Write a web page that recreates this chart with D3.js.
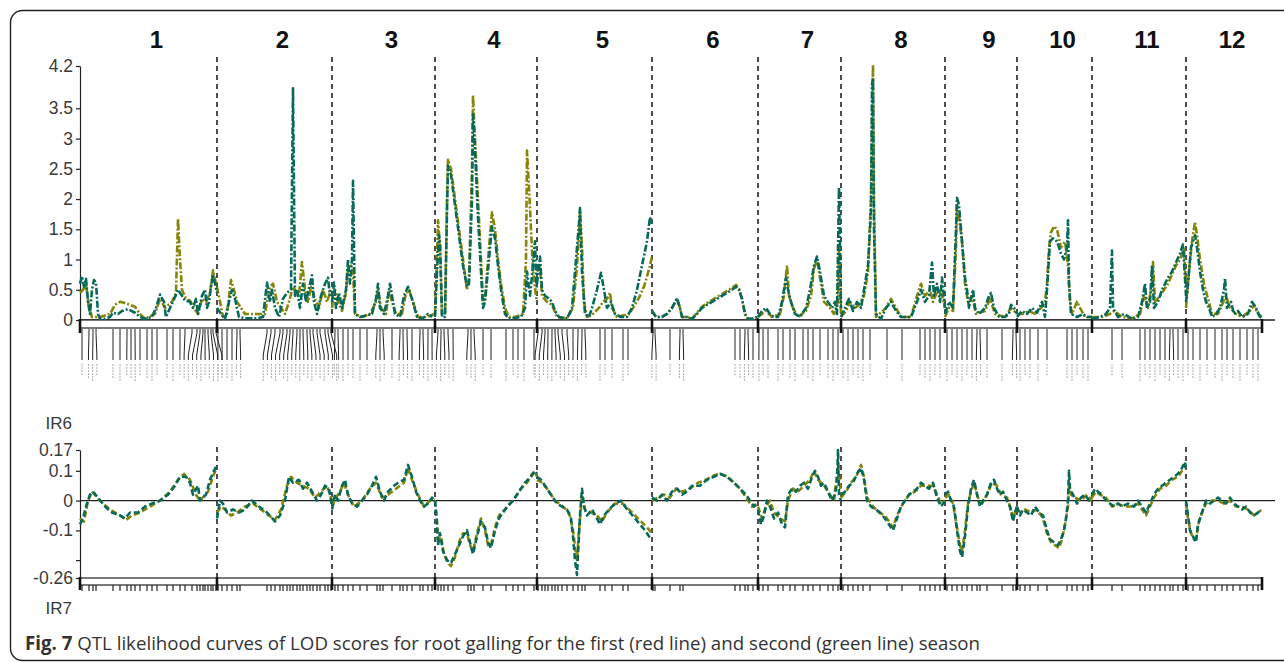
<!DOCTYPE html>
<html>
<head>
<meta charset="utf-8">
<script src="https://cdn.jsdelivr.net/npm/d3@7"></script>
<style>
  body { margin: 0; background: #fff; }
  svg { display: block; }
</style>
</head>
<body>
<svg id="chart" width="1284" height="662"></svg>
<script>
// chromosome names and lengths (cM)
const chromosomes = ['1', '2', '3', '4', '5', '6', '7', '8', '9', '10', '11', '12'];
const chrLengths = [137, 115, 103, 102, 115, 106, 83, 104, 72, 75, 94, 76];

const lodTicks = [0, 0.5, 1, 1.5, 2, 2.5, 3, 3.5, 4.2];
const effectTicks = [0.17, 0.1, 0, -0.1, -0.2, -0.26];
const effectTickLabels = ['0.17', '0.1', '0', '-0.1', '', '-0.26'];

// marker positions within each chromosome (cM)
const markers = [
  [2, 9, 13, 16, 33, 40, 47, 51, 55, 60, 67, 72, 77, 87, 93, 100, 105, 112, 117, 120, 123, 125, 128, 131, 133, 136],
  [1, 5, 10, 15, 20, 23, 50, 54, 58, 63, 66, 70, 73, 76, 80, 83, 86, 90, 93, 96, 100, 103, 108, 111, 114],
  [3, 6, 11, 16, 21, 28, 35, 45, 48, 51, 60, 68, 71, 75, 80, 88, 91, 96, 100],
  [3, 6, 9, 13, 18, 33, 36, 39, 48, 56, 71, 78, 83, 89, 99],
  [1, 5, 8, 11, 15, 18, 21, 25, 30, 36, 41, 45, 48, 63, 68, 75, 86, 91],
  [1, 3, 18, 28, 31, 83, 88, 93, 96, 101],
  [1, 5, 10, 20, 25, 32, 37, 45, 50, 55, 62, 70, 75, 80],
  [2, 7, 12, 17, 22, 29, 46, 61, 79, 84, 89, 94, 99],
  [2, 7, 12, 17, 22, 27, 32, 35, 42, 57, 68, 71],
  [3, 8, 13, 21, 30, 50, 55, 60, 66, 71],
  [20, 30, 48, 53, 58, 63, 68, 73, 78, 81, 86, 91],
  [2, 7, 14, 21, 29, 36, 41, 47, 54, 61, 67, 72]
];

// LOD, first season (drawn olive) — [position, LOD] per chromosome
const lodSeason1 = [
  [[0,0.45],[3,0.5],[6,0.6],[9,0.2],[12,0.05],[20,0.05],[30,0.1],[35,0.25],[40,0.3],[45,0.28],[50,0.25],[55,0.22],[60,0.1],[65,0.02],[75,0.1],[80,0.35],[85,0.2],[92,0.3],[96,0.45],[98,1.68],[100,1.0],[102,0.5],[106,0.35],[110,0.32],[114,0.2],[118,0.1],[122,0.35],[126,0.3],[130,0.45],[133,0.82],[136,0.6]],
  [[0,0.55],[3,0.3],[6,0.05],[10,0.1],[14,0.66],[17,0.5],[20,0.3],[24,0.2],[28,0.1],[45,0.1],[48,0.1],[50,0.3],[53,0.55],[56,0.6],[60,0.3],[64,0.2],[68,0.1],[72,0.3],[76,0.55],[78,0.5],[82,0.4],[85,0.96],[88,0.5],[91,0.3],[94,0.55],[98,0.35],[102,0.2],[106,0.5],[110,0.3],[114,0.5]],
  [[0,0.2],[3,0.5],[6,0.3],[10,0.15],[14,0.45],[16,0.85],[19,0.9],[21,0.8],[23,0.1],[30,0.05],[38,0.1],[44,0.3],[46,0.5],[49,0.2],[54,0.1],[57,0.5],[60,0.3],[64,0.1],[70,0.1],[74,0.45],[77,0.5],[81,0.3],[86,0.05],[95,0.05],[102,0.1]],
  [[0,0.1],[2,1.0],[3,1.65],[5,1.2],[7,0.1],[10,0.1],[12,2.0],[13,2.65],[16,2.5],[20,2.0],[24,1.5],[28,1.0],[32,0.5],[34,0.7],[37,2.5],[38,3.72],[40,3.0],[43,2.0],[46,1.0],[48,0.3],[50,0.35],[54,1.2],[57,1.78],[60,1.5],[63,1.0],[66,0.6],[70,0.2],[74,0.05],[80,0.05],[88,0.1],[91,1.0],[92,2.8],[94,2.2],[96,1.5],[98,0.8],[101,0.4],[102,0.3]],
  [[0,0.8],[3,0.9],[5,0.4],[10,0.3],[15,0.25],[20,0.05],[30,0.03],[36,0.2],[40,0.9],[42,1.4],[43,1.8],[45,1.2],[47,0.3],[50,0.05],[56,0.1],[62,0.2],[66,0.3],[70,0.35],[73,0.45],[75,0.2],[80,0.05],[92,0.1],[98,0.25],[103,0.4],[108,0.6],[113,0.9],[115,1.05]],
  [[0,0.15],[4,0.05],[10,0.05],[15,0.1],[20,0.2],[25,0.34],[28,0.2],[30,0.05],[35,0.05],[40,0.02],[45,0.12],[50,0.22],[55,0.28],[60,0.33],[65,0.38],[70,0.43],[75,0.48],[80,0.53],[84,0.58],[87,0.52],[90,0.35],[93,0.1],[96,0.02],[100,0.02],[106,0.05]],
  [[0,0.05],[4,0.1],[8,0.15],[14,0.05],[22,0.1],[26,0.4],[29,0.9],[31,0.4],[35,0.2],[40,0.05],[48,0.15],[53,0.4],[56,0.85],[59,1.0],[62,0.7],[66,0.3],[72,0.2],[76,0.1],[80,0.3],[81,1.2],[83,0.1]],
  [[0,0.05],[5,0.15],[9,0.3],[14,0.2],[18,0.25],[23,0.4],[27,0.8],[30,2.0],[32,4.22],[33,2.0],[35,0.05],[45,0.2],[50,0.35],[55,0.2],[60,0.05],[70,0.05],[76,0.4],[80,0.6],[84,0.4],[89,0.5],[92,0.3],[97,0.5],[101,0.4],[104,0.2]],
  [[0,0.05],[4,0.2],[8,0.15],[11,1.2],[12,1.9],[14,1.7],[17,1.3],[20,0.6],[23,0.3],[27,0.4],[31,0.1],[40,0.15],[45,0.35],[50,0.1],[60,0.05],[66,0.2],[72,0.1]],
  [[0,0.1],[6,0.1],[12,0.15],[18,0.1],[24,0.2],[28,0.3],[30,0.6],[32,1.2],[34,1.45],[37,1.55],[40,1.5],[44,1.2],[48,1.3],[51,0.9],[53,0.3],[55,0.1],[60,0.3],[63,0.2],[68,0.05],[75,0.05]],
  [[0,0.05],[10,0.05],[18,0.1],[22,0.15],[30,0.05],[40,0.03],[48,0.1],[52,0.4],[56,0.2],[60,0.6],[61,0.96],[63,0.3],[68,0.4],[72,0.5],[76,0.6],[80,0.75],[84,0.9],[88,1.0],[92,1.2],[94,0.6]],
  [[0,0.2],[3,0.8],[6,1.3],[9,1.62],[11,1.4],[14,1.0],[18,0.6],[22,0.35],[26,0.1],[32,0.1],[36,0.25],[40,0.4],[44,0.2],[50,0.1],[56,0.05],[64,0.15],[68,0.25],[72,0.1],[76,0.05]]
];

// LOD, second season (drawn green)
const lodSeason2 = [
  [[0,0.6],[2,0.72],[4,0.55],[6,0.68],[8,0.3],[10,0.1],[12,0.5],[14,0.66],[16,0.62],[18,0.1],[20,0.02],[25,0.02],[30,0.05],[33,0.12],[38,0.1],[42,0.15],[48,0.18],[55,0.12],[60,0.05],[65,0.02],[72,0.05],[76,0.2],[80,0.42],[84,0.3],[86,0.05],[90,0.2],[95,0.38],[98,0.5],[100,0.45],[105,0.32],[110,0.3],[113,0.2],[116,0.35],[118,0.1],[122,0.4],[125,0.5],[127,0.2],[129,0.3],[131,0.55],[133,0.75],[135,0.6],[137,0.45]],
  [[0,0.2],[4,0.1],[8,0.02],[12,0.3],[15,0.5],[18,0.35],[22,0.05],[28,0.03],[40,0.03],[46,0.05],[50,0.62],[53,0.3],[55,0.5],[58,0.2],[62,0.05],[66,0.35],[70,0.45],[74,0.5],[76,3.83],[78,0.4],[80,0.5],[83,0.2],[86,0.6],[89,0.3],[93,0.6],[95,0.74],[97,0.3],[100,0.1],[104,0.4],[108,0.6],[111,0.7],[113,0.4]],
  [[0,0.3],[2,0.62],[4,0.2],[7,0.45],[10,0.2],[14,0.5],[16,1.0],[18,0.6],[20,1.0],[21,2.3],[22,1.2],[23,0.1],[28,0.05],[35,0.08],[40,0.1],[44,0.35],[46,0.6],[48,0.2],[52,0.1],[56,0.4],[58,0.6],[61,0.3],[63,0.1],[68,0.05],[72,0.4],[76,0.55],[80,0.35],[85,0.05],[90,0.02],[96,0.1],[100,0.05]],
  [[0,0.05],[2,0.8],[4,1.4],[5,1.3],[7,0.05],[10,0.05],[12,1.8],[13,2.55],[16,2.4],[20,1.9],[24,1.4],[28,0.9],[32,0.55],[34,0.6],[37,2.0],[38,3.4],[40,2.8],[43,1.7],[46,0.8],[48,0.2],[50,0.3],[54,1.0],[57,1.55],[60,1.35],[63,0.9],[66,0.5],[70,0.1],[74,0.02],[86,0.05],[90,0.2],[92,0.8],[95,0.4],[98,0.9],[100,1.3],[101,0.7],[102,0.5]],
  [[0,0.6],[3,1.05],[5,0.5],[8,0.4],[12,0.35],[15,0.3],[18,0.15],[22,0.05],[30,0.02],[35,0.2],[39,1.0],[42,1.6],[43,1.85],[45,0.8],[48,0.1],[52,0.05],[55,0.2],[60,0.5],[64,0.78],[67,0.5],[70,0.2],[74,0.3],[78,0.1],[84,0.05],[90,0.05],[95,0.2],[100,0.5],[105,0.9],[110,1.3],[113,1.7],[115,1.6]],
  [[0,0.15],[4,0.05],[10,0.05],[15,0.1],[20,0.2],[25,0.36],[28,0.2],[30,0.05],[35,0.05],[40,0.02],[45,0.1],[50,0.2],[55,0.25],[60,0.3],[65,0.35],[70,0.4],[75,0.45],[80,0.5],[84,0.55],[87,0.5],[90,0.35],[93,0.1],[96,0.02],[100,0.02],[106,0.05]],
  [[0,0.05],[4,0.15],[8,0.2],[12,0.1],[16,0.05],[20,0.05],[24,0.3],[28,0.7],[30,0.5],[33,0.3],[37,0.1],[42,0.05],[48,0.2],[52,0.5],[56,0.9],[59,1.05],[62,0.8],[66,0.4],[70,0.3],[74,0.2],[77,0.3],[79,0.1],[81,2.2],[83,0.2]],
  [[0,0.05],[4,0.2],[8,0.35],[12,0.15],[16,0.3],[20,0.2],[24,0.6],[27,0.9],[30,1.8],[31,3.9],[32,4.0],[33,1.5],[35,0.1],[40,0.02],[45,0.2],[50,0.3],[55,0.15],[60,0.05],[70,0.05],[76,0.3],[80,0.5],[84,0.3],[88,0.4],[91,0.95],[93,0.4],[96,0.6],[99,0.3],[101,0.7],[104,0.2]],
  [[0,0.1],[4,0.3],[8,0.2],[11,1.5],[12,2.02],[14,1.9],[16,1.5],[18,1.1],[20,0.7],[22,0.5],[24,0.2],[28,0.5],[30,0.2],[34,0.1],[40,0.2],[44,0.4],[46,0.45],[49,0.2],[54,0.05],[60,0.05],[64,0.1],[66,0.25],[69,0.2],[72,0.1]],
  [[0,0.05],[5,0.15],[10,0.1],[15,0.2],[20,0.12],[25,0.3],[28,0.05],[30,0.5],[33,1.3],[36,1.35],[40,1.3],[44,1.1],[47,1.0],[50,1.2],[51,1.65],[52,0.6],[54,0.1],[60,0.05],[66,0.1],[70,0.05],[75,0.05]],
  [[0,0.02],[8,0.05],[14,0.1],[18,0.2],[20,1.15],[21,0.2],[26,0.05],[32,0.1],[40,0.02],[46,0.05],[50,0.3],[53,0.6],[55,0.2],[58,0.3],[60,0.9],[62,0.2],[66,0.3],[70,0.5],[73,0.6],[76,0.7],[80,0.8],[84,0.95],[88,1.1],[91,1.25],[94,0.4]],
  [[0,0.3],[2,0.6],[5,1.2],[9,1.4],[11,1.2],[14,0.8],[17,0.5],[20,0.3],[23,0.2],[26,0.05],[30,0.1],[34,0.2],[38,0.5],[39,0.69],[41,0.2],[45,0.3],[48,0.1],[52,0.15],[56,0.05],[62,0.1],[66,0.3],[70,0.2],[74,0.05],[76,0.05]]
];

// additive effect, first season (olive)
const effectSeason1 = [
  [[0,-0.06],[4,-0.07],[8,0.0],[12,0.03],[20,0.0],[30,-0.03],[40,-0.05],[46,-0.065],[52,-0.05],[60,-0.04],[70,-0.02],[80,0.0],[90,0.03],[98,0.07],[104,0.09],[110,0.07],[116,0.02],[120,0.0],[128,0.03],[134,0.09],[137,0.11]],
  [[0,-0.04],[4,-0.02],[8,-0.03],[14,-0.05],[20,-0.04],[28,-0.02],[36,-0.01],[44,-0.03],[52,-0.05],[58,-0.065],[64,-0.03],[70,0.05],[74,0.08],[80,0.06],[86,0.05],[92,0.04],[98,0.01],[104,0.03],[110,0.05],[115,0.0]],
  [[0,-0.02],[4,0.01],[8,0.03],[12,0.06],[16,0.02],[22,-0.02],[30,0.0],[38,0.04],[44,0.06],[50,0.01],[56,0.02],[64,0.04],[72,0.06],[76,0.11],[80,0.07],[86,0.02],[92,-0.02],[98,0.0],[103,0.0]],
  [[0,0.0],[2,-0.07],[3,-0.13],[6,-0.12],[9,-0.18],[13,-0.21],[16,-0.22],[20,-0.19],[24,-0.14],[28,-0.11],[32,-0.11],[35,-0.15],[38,-0.17],[42,-0.11],[46,-0.06],[50,-0.1],[53,-0.15],[56,-0.15],[60,-0.09],[64,-0.05],[70,-0.03],[78,0.0],[86,0.04],[92,0.06],[97,0.09],[100,0.1],[102,0.08]],
  [[0,0.07],[5,0.06],[10,0.04],[18,0.0],[26,-0.02],[32,-0.04],[36,-0.1],[39,-0.18],[40,-0.2],[42,-0.1],[45,0.02],[48,-0.03],[54,-0.04],[60,-0.05],[65,-0.07],[70,-0.04],[78,-0.01],[86,-0.01],[95,-0.04],[104,-0.07],[110,-0.09],[115,-0.11]],
  [[0,0.0],[6,0.01],[12,0.02],[18,0.01],[24,0.04],[30,0.03],[38,0.04],[46,0.06],[54,0.07],[62,0.085],[68,0.09],[76,0.08],[82,0.06],[88,0.04],[94,0.01],[100,-0.02],[106,-0.01]],
  [[0,-0.02],[4,-0.06],[8,-0.02],[12,0.0],[16,-0.04],[22,-0.06],[27,-0.07],[30,0.0],[35,0.04],[40,0.03],[46,0.05],[52,0.07],[56,0.1],[60,0.07],[66,0.05],[72,0.02],[76,0.0],[80,0.12],[83,0.02]],
  [[0,0.01],[5,0.03],[10,0.06],[15,0.08],[20,0.12],[23,0.08],[26,0.01],[32,-0.02],[38,-0.04],[44,-0.05],[48,-0.07],[52,-0.09],[56,-0.05],[62,-0.01],[68,0.02],[74,0.03],[80,0.05],[86,0.05],[92,0.05],[96,0.02],[100,-0.01],[104,0.0]],
  [[0,0.01],[4,0.02],[8,-0.01],[12,-0.09],[15,-0.15],[17,-0.17],[20,-0.1],[23,-0.01],[26,0.03],[29,0.06],[33,0.01],[37,-0.01],[42,0.02],[47,0.06],[52,0.05],[56,0.02],[62,0.01],[66,-0.03],[68,-0.06],[72,-0.02]],
  [[0,-0.03],[4,-0.04],[8,-0.03],[14,-0.04],[20,-0.03],[26,-0.06],[30,-0.11],[34,-0.14],[38,-0.15],[42,-0.16],[45,-0.13],[48,-0.08],[51,-0.02],[52,0.06],[54,0.02],[58,0.01],[64,0.0],[70,0.02],[75,0.0]],
  [[0,0.01],[4,0.03],[8,0.02],[14,0.01],[20,-0.02],[26,-0.01],[32,-0.02],[40,-0.02],[46,-0.01],[50,-0.03],[54,-0.05],[58,-0.02],[62,0.01],[68,0.04],[74,0.05],[80,0.07],[86,0.08],[90,0.1],[94,0.11]],
  [[0,-0.01],[2,-0.06],[5,-0.11],[8,-0.13],[10,-0.13],[13,-0.07],[16,-0.04],[20,-0.01],[26,0.0],[32,0.0],[38,-0.01],[44,0.0],[50,-0.02],[56,-0.02],[62,-0.03],[68,-0.05],[72,-0.04],[76,-0.03]]
];

// additive effect, second season (green)
const effectSeason2 = [
  [[0,-0.08],[3,-0.06],[6,-0.02],[10,0.02],[13,0.03],[18,0.01],[25,-0.02],[32,-0.04],[40,-0.05],[45,-0.06],[50,-0.04],[58,-0.04],[65,-0.02],[72,-0.01],[80,0.0],[88,0.02],[95,0.05],[100,0.08],[106,0.08],[110,0.06],[113,0.02],[118,0.05],[120,0.0],[126,0.02],[130,0.07],[134,0.1],[137,0.12]],
  [[0,-0.06],[3,0.0],[6,-0.01],[10,-0.04],[16,-0.03],[22,-0.04],[28,-0.03],[35,0.0],[42,-0.02],[50,-0.04],[58,-0.07],[63,-0.05],[68,0.0],[72,0.08],[76,0.06],[82,0.07],[86,0.04],[90,0.06],[95,0.03],[100,0.0],[104,0.02],[108,0.05],[112,0.04],[115,-0.02]],
  [[0,-0.03],[3,0.02],[6,0.0],[10,0.05],[13,0.07],[16,0.02],[20,-0.01],[25,-0.02],[30,0.0],[35,0.02],[40,0.05],[44,0.08],[48,0.03],[52,0.0],[56,0.03],[62,0.05],[66,0.06],[72,0.07],[76,0.12],[80,0.08],[84,0.03],[88,0.0],[92,-0.02],[96,-0.01],[100,0.01],[103,0.0]],
  [[0,0.0],[2,-0.08],[3,-0.15],[5,-0.11],[8,-0.17],[12,-0.2],[16,-0.21],[20,-0.18],[24,-0.15],[28,-0.12],[32,-0.1],[35,-0.14],[38,-0.18],[42,-0.12],[46,-0.07],[50,-0.09],[53,-0.14],[56,-0.16],[60,-0.1],[64,-0.06],[68,-0.04],[72,-0.02],[78,0.0],[84,0.03],[90,0.06],[96,0.08],[100,0.1],[102,0.09]],
  [[0,0.08],[4,0.07],[8,0.05],[12,0.03],[16,0.01],[20,-0.01],[25,-0.02],[30,-0.03],[34,-0.06],[36,-0.12],[38,-0.2],[40,-0.25],[41,-0.18],[43,-0.05],[45,0.04],[47,-0.02],[50,-0.05],[55,-0.03],[60,-0.06],[63,-0.08],[67,-0.05],[72,-0.03],[78,-0.01],[84,0.0],[88,-0.02],[93,-0.04],[98,-0.06],[103,-0.08],[108,-0.1],[112,-0.12],[115,-0.13]],
  [[0,0.01],[5,0.0],[10,0.02],[15,0.0],[20,0.03],[25,0.04],[30,0.02],[35,0.03],[40,0.05],[48,0.05],[55,0.07],[62,0.08],[68,0.09],[75,0.08],[82,0.06],[88,0.04],[94,0.02],[98,0.0],[102,-0.02],[106,-0.01]],
  [[0,-0.03],[3,-0.08],[6,-0.05],[9,0.0],[12,-0.02],[16,-0.06],[20,-0.04],[24,-0.08],[27,-0.09],[30,0.02],[34,0.04],[38,0.03],[42,0.05],[46,0.06],[50,0.04],[54,0.08],[57,0.1],[60,0.08],[63,0.05],[66,0.06],[70,0.03],[74,0.0],[77,0.02],[79,0.06],[80,0.17],[81,0.02],[83,0.0]],
  [[0,0.02],[4,0.03],[8,0.05],[12,0.06],[16,0.09],[20,0.11],[23,0.07],[26,0.0],[30,-0.02],[35,-0.03],[39,-0.04],[44,-0.06],[48,-0.08],[52,-0.1],[56,-0.06],[60,-0.02],[64,0.0],[68,0.02],[72,0.03],[76,0.04],[80,0.06],[84,0.05],[88,0.04],[92,0.06],[96,0.01],[100,-0.02],[104,0.0]],
  [[0,0.02],[3,0.03],[6,0.0],[9,-0.02],[12,-0.1],[15,-0.17],[17,-0.19],[20,-0.12],[23,-0.02],[26,0.04],[29,0.07],[32,0.02],[35,-0.02],[38,0.0],[42,0.02],[46,0.06],[49,0.07],[52,0.04],[55,0.02],[58,0.03],[62,0.0],[65,-0.02],[68,-0.07],[70,-0.04],[72,-0.02]],
  [[0,-0.02],[3,-0.05],[6,-0.03],[10,-0.04],[14,-0.05],[18,-0.02],[22,-0.04],[26,-0.05],[30,-0.1],[33,-0.13],[37,-0.14],[41,-0.15],[44,-0.13],[47,-0.1],[49,-0.06],[51,0.0],[52,0.1],[53,0.04],[56,0.02],[60,-0.01],[64,0.01],[68,0.02],[72,0.0],[75,0.01]],
  [[0,0.02],[3,0.04],[6,0.03],[10,0.02],[14,0.0],[18,-0.01],[22,-0.02],[26,-0.01],[30,-0.02],[36,-0.01],[42,-0.02],[46,0.0],[50,-0.02],[54,-0.04],[58,-0.01],[62,0.02],[66,0.04],[70,0.05],[74,0.06],[78,0.07],[82,0.08],[86,0.09],[90,0.11],[93,0.13],[94,0.1]],
  [[0,0.0],[2,-0.05],[4,-0.1],[7,-0.12],[10,-0.14],[12,-0.08],[14,-0.06],[17,-0.03],[20,0.0],[24,-0.01],[28,0.0],[32,0.01],[36,0.0],[40,-0.01],[44,0.01],[48,-0.01],[52,-0.02],[56,-0.03],[60,-0.02],[64,-0.04],[68,-0.05],[72,-0.04],[76,-0.04]]
];

const OLIVE = '#85850a';
const GREEN = '#07695a';
const FONT = '"Liberation Sans", Arial, sans-serif';

const svg = d3.select('#chart');

// cumulative chromosome starts
const starts = [];
chrLengths.reduce((acc, len, i) => { starts[i] = acc; return acc + len; }, 0);
const totalLength = d3.sum(chrLengths);

const x = d3.scaleLinear().domain([0, totalLength]).range([80, 1262]);
const yLod = d3.scaleLinear().domain([0, 4.2]).range([320, 66]);
const yEff = d3.scaleLinear().domain([-0.26, 0.17]).range([578, 450]);

// frame
svg.append('rect')
  .attr('x', 10.5).attr('y', 10.5)
  .attr('width', 1320).attr('height', 650)
  .attr('rx', 12)
  .attr('fill', 'none')
  .attr('stroke', '#222')
  .attr('stroke-width', 1.4);

// chromosome labels
svg.append('g')
  .selectAll('text')
  .data(chromosomes)
  .enter().append('text')
    .attr('x', (d, i) => x(starts[i] + chrLengths[i] / 2) + 8)
    .attr('y', 48)
    .attr('text-anchor', 'middle')
    .attr('font-family', FONT)
    .attr('font-weight', 'bold')
    .attr('font-size', 24)
    .attr('fill', '#111')
    .text(d => d);

// dashed chromosome boundaries
const boundaries = starts.slice(1);
[[57, 320], [447, 578]].forEach(([top, bottom]) => {
  svg.append('g')
    .selectAll('line')
    .data(boundaries)
    .enter().append('line')
      .attr('x1', d => x(d)).attr('x2', d => x(d))
      .attr('y1', top).attr('y2', bottom)
      .attr('stroke', '#222')
      .attr('stroke-width', 1.6)
      .attr('stroke-dasharray', '5,4');
});

// axes
function styleAxis(g) {
  g.select('.domain').attr('stroke', '#222').attr('stroke-width', 1.2);
  g.selectAll('.tick line').attr('stroke', '#222').attr('stroke-width', 1.2);
  g.selectAll('.tick text')
    .attr('font-family', FONT)
    .attr('font-size', 17.5)
    .attr('fill', '#3a3a3a');
}

svg.append('g')
  .attr('transform', `translate(${x(0)},0)`)
  .call(d3.axisLeft(yLod).tickValues(lodTicks).tickSize(4).tickSizeOuter(0).tickPadding(3)
    .tickFormat(d => String(d)))
  .call(styleAxis);

svg.append('g')
  .attr('transform', `translate(${x(0)},0)`)
  .call(d3.axisLeft(yEff).tickValues(effectTicks).tickSize(4).tickSizeOuter(0).tickPadding(3)
    .tickFormat((d, i) => effectTickLabels[i]))
  .call(styleAxis);

// zero lines
svg.append('line')
  .attr('x1', x(0)).attr('x2', 1275)
  .attr('y1', yLod(0)).attr('y2', yLod(0))
  .attr('stroke', '#222').attr('stroke-width', 1.3);
svg.append('line')
  .attr('x1', x(0)).attr('x2', 1275)
  .attr('y1', yEff(0)).attr('y2', yEff(0))
  .attr('stroke', '#222').attr('stroke-width', 1.3);

// chromosome bars under each panel
function chromosomeBar(top, height) {
  const g = svg.append('g');
  g.selectAll('rect')
    .data(chrLengths)
    .enter().append('rect')
      .attr('x', (d, i) => x(starts[i]))
      .attr('y', top)
      .attr('width', d => x(d) - x(0))
      .attr('height', height)
      .attr('fill', '#fff')
      .attr('stroke', '#222')
      .attr('stroke-width', 1.2);
  g.selectAll('line')
    .data(starts.concat([totalLength]))
    .enter().append('line')
      .attr('x1', d => x(d)).attr('x2', d => x(d))
      .attr('y1', top - 1).attr('y2', top + height + 5)
      .attr('stroke', '#111')
      .attr('stroke-width', 2.6);
  return g;
}
chromosomeBar(320, 8);
chromosomeBar(578, 7);

// marker lines with fanned label slots (top) and ticks (bottom)
const markerData = [];
markers.forEach((list, ci) => {
  const pos = list.map(m => x(starts[ci] + m));
  // spread slots so they keep a minimum gap
  const slots = pos.slice();
  const gap = 4.2;
  for (let iter = 0; iter < 60; iter++) {
    for (let k = 1; k < slots.length; k++) {
      const d = slots[k] - slots[k - 1];
      if (d < gap) {
        const push = (gap - d) / 2;
        slots[k - 1] -= push;
        slots[k] += push;
      }
    }
  }
  pos.forEach((p, k) => markerData.push({ px: p, sx: slots[k] }));
});

svg.append('g')
  .selectAll('path')
  .data(markerData)
  .enter().append('path')
    .attr('d', d => `M${d.px},329 L${d.px},333 L${d.sx},355 L${d.sx},360`)
    .attr('fill', 'none')
    .attr('stroke', '#222')
    .attr('stroke-width', 1);

// illegible marker names, shown as faint strokes
svg.append('g')
  .selectAll('line')
  .data(markerData)
  .enter().append('line')
    .attr('x1', d => d.sx).attr('x2', d => d.sx)
    .attr('y1', 364).attr('y2', (d, i) => 376 + (i % 3) * 3)
    .attr('stroke', '#b4b4b4')
    .attr('stroke-width', 1.1)
    .attr('stroke-dasharray', '2,1');

svg.append('g')
  .selectAll('line')
  .data(markerData)
  .enter().append('line')
    .attr('x1', d => d.px).attr('x2', d => d.px)
    .attr('y1', 585).attr('y2', 591)
    .attr('stroke', '#222')
    .attr('stroke-width', 1.2);

// curves
function drawSeries(series, yScale, color, dash) {
  const line = d3.line()
    .x(d => d[0])
    .y(d => yScale(d[1]));
  svg.append('g')
    .selectAll('path')
    .data(series.map((pts, ci) => pts.map(p => [x(starts[ci] + p[0]), p[1]])))
    .enter().append('path')
      .attr('d', line)
      .attr('fill', 'none')
      .attr('stroke', color)
      .attr('stroke-width', 2.6)
      .attr('stroke-dasharray', dash)
      .attr('stroke-linejoin', 'round');
}

drawSeries(lodSeason1, yLod, OLIVE, '7,2,2,2');
drawSeries(lodSeason2, yLod, GREEN, '7,2,2,2');
drawSeries(effectSeason1, yEff, OLIVE, '6,3');
drawSeries(effectSeason2, yEff, GREEN, '6,3');

// panel labels
svg.append('text')
  .attr('x', 72).attr('y', 429)
  .attr('text-anchor', 'end')
  .attr('font-family', FONT).attr('font-size', 17).attr('fill', '#3a3a3a')
  .text('IR6');
svg.append('text')
  .attr('x', 72).attr('y', 614)
  .attr('text-anchor', 'end')
  .attr('font-family', FONT).attr('font-size', 17).attr('fill', '#3a3a3a')
  .text('IR7');

// caption
const caption = svg.append('text')
  .attr('x', 25).attr('y', 650)
  .attr('font-family', '"Open Sans", "Noto Sans", sans-serif')
  .attr('font-size', 18.7)
  .attr('fill', '#333');
caption.append('tspan').attr('font-weight', 'bold').text('Fig. 7');
caption.append('tspan').text(' QTL likelihood curves of LOD scores for root galling for the first (red line) and second (green line) season');
</script>
</body>
</html>
